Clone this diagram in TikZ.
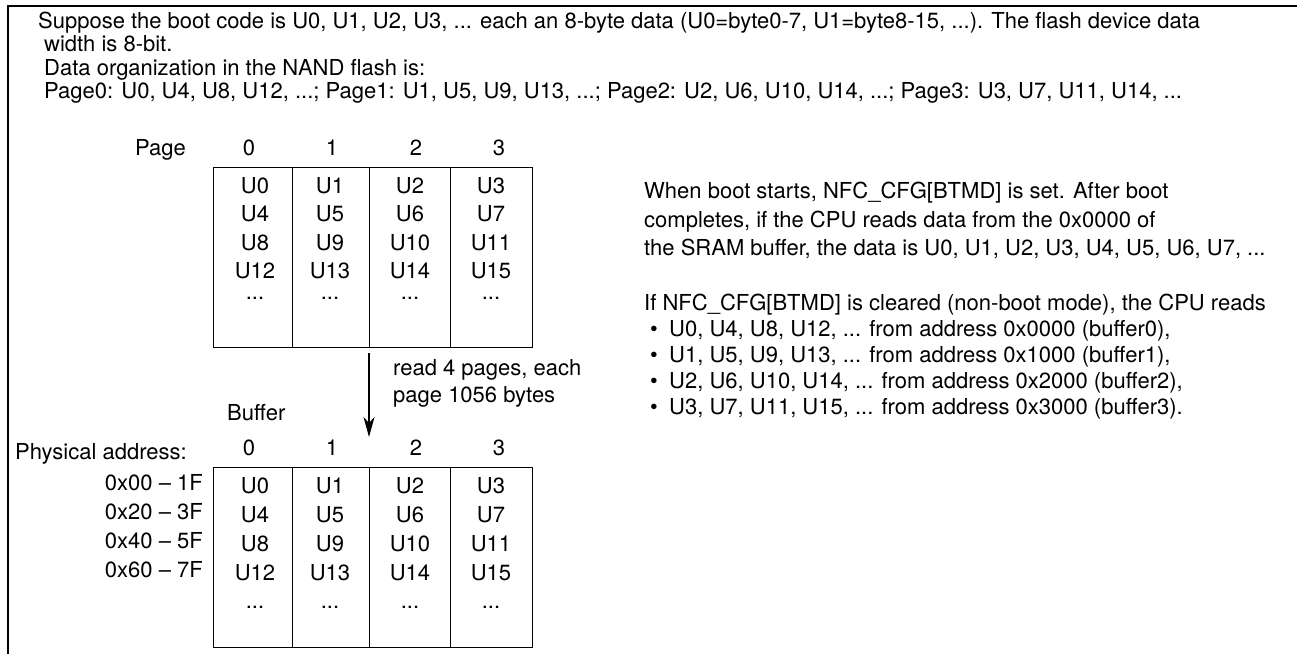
\documentclass[tikz,border=0pt]{standalone}
\usepackage{fontspec}
\setmainfont{TeX Gyre Heros}
\usetikzlibrary{positioning,arrows.meta}

\begin{document}
\begin{tikzpicture}[x=1pt,y=-1pt,
  every node/.append style={font=\fontsize{22}{24}\selectfont},
  txt/.style={inner sep=0pt,anchor=base west},
  cell/.style={inner sep=0pt,anchor=base},
  colbox/.style={draw,line width=1pt,inner sep=0pt,anchor=north west,minimum height=180pt}]
  \useasboundingbox (0,0) rectangle (1297,654);
  \draw[line width=1.4pt] (1297,6) -- (8,6) -- (8,654);

  % description on top
  \node[txt] (intro1) at (38,28) {Suppose the boot code is U0, U1, U2, U3, ... each an 8-byte data (U0=byte0-7, U1=byte8-15, ...). The flash device data};
  \node[txt] (intro2) at (44,51) {width is 8-bit.};
  \node[txt] (intro3) at (44,75) {Data organization in the NAND flash is:};
  \node[txt] (intro4) at (44,98) {Page0: U0, U4, U8, U12, ...; Page1: U1, U5, U9, U13, ...; Page2: U2, U6, U10, U14, ...; Page3: U3, U7, U11, U14, ...};

  % NAND pages and SRAM buffers
  \node[txt] (pglbl) at (135,155) {Page};
  \node[txt] (buflbl) at (227,420) {Buffer};
  \node[txt] (phylbl) at (15,459) {Physical address:};
  \foreach \c/\xa/\w/\xh in {0/213/79/249,1/292/77/332,2/369/81/416,3/450/82/499} {
    \node[colbox,minimum width=\w pt] (pg\c) at (\xa,167) {};
    \node[colbox,minimum width=\w pt] (bf\c) at (\xa,467) {};
    \node[cell] (pg\c-h) at (\xh,155) {\c};
    \node[cell] (bf\c-h) at (\xh,455) {\c};
  }
  \foreach \c/\xc/\ua/\ub/\uc/\ud in {0/255/U0/U4/U8/U12,1/330/U1/U5/U9/U13,2/410/U2/U6/U10/U14,3/491/U3/U7/U11/U15} {
    \node[cell] (pg\c-a) at (\xc,193) {\ua};
    \node[cell] (pg\c-b) at (\xc,221) {\ub};
    \node[cell] (pg\c-c) at (\xc,250) {\uc};
    \node[cell] (pg\c-d) at (\xc,278) {\ud};
    \node[cell] (pg\c-e) at (\xc,299) {...};
    \node[cell] (bf\c-a) at (\xc,493) {\ua};
    \node[cell] (bf\c-b) at (\xc,522) {\ub};
    \node[cell] (bf\c-c) at (\xc,551) {\uc};
    \node[cell] (bf\c-d) at (\xc,580) {\ud};
    \node[cell] (bf\c-e) at (\xc,608) {...};
  }
  \foreach \i/\adr/\yb in {a/0x00 -- 1F/490,b/0x20 -- 3F/519,c/0x40 -- 5F/548,d/0x60 -- 7F/577}
    \node[inner sep=0pt,anchor=base east] (adr-\i) at (203,\yb) {\adr};

  % read arrow
  \coordinate (rdtop) at (369,353);
  \coordinate (rdbot) at (369,437);
  \draw[line width=1.5pt,-{Stealth[length=20pt,width=11pt,inset=6pt]}] (rdtop) -- (rdbot);
  \node[txt] (rd1) at (393,375) {read 4 pages, each};
  \node[txt] (rd2) at (393,402) {page 1056 bytes};

  % notes on the right
  \node[txt] (nt1) at (644,198) {When boot starts, NFC\_CFG[BTMD] is set. After boot};
  \node[txt] (nt2) at (644,227) {completes, if the CPU reads data from the 0x0000 of};
  \node[txt] (nt3) at (644,255) {the SRAM buffer, the data is U0, U1, U2, U3, U4, U5, U6, U7, ...};
  \node[txt] (nt4) at (644,310) {If NFC\_CFG[BTMD] is cleared (non-boot mode), the CPU reads};
  \foreach \i/\s/\yb in {0/{U0, U4, U8, U12, ... from address 0x0000 (buffer0),}/336,
                        1/{U1, U5, U9, U13, ... from address 0x1000 (buffer1),}/362,
                        2/{U2, U6, U10, U14, ... from address 0x2000 (buffer2),}/388,
                        3/{U3, U7, U11, U15, ... from address 0x3000 (buffer3).}/414} {
    \node[txt] (dot\i) at (650,\yb) {\textbullet};
    \node[txt] (bl\i) at (669,\yb) {\s};
  }
\end{tikzpicture}
\end{document}
